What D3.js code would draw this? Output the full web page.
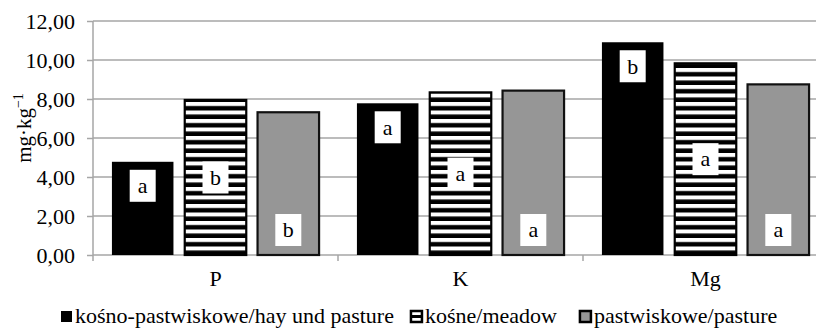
<!DOCTYPE html>
<html>
<head>
<meta charset="utf-8">
<script src="https://cdn.jsdelivr.net/npm/d3@7"></script>
<style>
  html, body { margin: 0; padding: 0; background: #fff; }
  svg, svg text { font-family: "Liberation Serif", "Times New Roman", Times, "DejaVu Serif", serif; }
  svg { display: block; }
</style>
</head>
<body>
<svg id="chart" width="816" height="328"></svg>
<script>
// Nutrient content by grassland use type
const categories = ["P", "K", "Mg"];
const seriesNames = ["kośno-pastwiskowe/hay und pasture", "kośne/meadow", "pastwiskowe/pasture"];
const hayPasture = [4.78, 7.78, 10.91];
const meadow = [7.95, 8.34, 9.83];
const pasture = [7.32, 8.43, 8.75];
// significance letters per series, per category
const hayPastureLetters = ["a", "a", "b"];
const meadowLetters = ["b", "a", "a"];
const pastureLetters = ["b", "a", "a"];
const yTicks = [0, 2, 4, 6, 8, 10, 12];

const FONT = "'Liberation Serif', 'Times New Roman', Times, 'DejaVu Serif', serif";
const FS = 22;
const svg = d3.select("#chart").attr("font-family", FONT);
const plotLeft = 93, plotRight = 828, plotTop = 21, plotBottom = 255;

const y = d3.scaleLinear().domain([0, 12]).range([plotBottom, plotTop]);
const x0 = d3.scaleBand().domain(categories).range([plotLeft, plotRight]).padding(0);
const x1 = d3.scaleBand().domain(d3.range(3)).range([0, x0.bandwidth()])
  .paddingInner(0.155).paddingOuter(0.26);

// stripe pattern for the meadow series
const defs = svg.append("defs");
const pat = defs.append("pattern").attr("id", "stripes")
  .attr("patternUnits", "userSpaceOnUse").attr("width", 8).attr("height", 8.5);
pat.append("rect").attr("width", 8).attr("height", 8.5).attr("fill", "#fff");
pat.append("rect").attr("y", 4).attr("width", 8).attr("height", 4.5).attr("fill", "#000");

const styles = [
  { fill: "#000", stroke: "none", sw: 0, place: "end" },
  { fill: "url(#stripes)", stroke: "#000", sw: 2.2, place: "center" },
  { fill: "#969696", stroke: "#111", sw: 2.2, place: "base" }
];
const values = [hayPasture, meadow, pasture];
const letters = [hayPastureLetters, meadowLetters, pastureLetters];

// gridlines
const grid = svg.append("g");
grid.selectAll("line").data(yTicks.filter(d => d > 0)).join("line")
  .attr("x1", plotLeft).attr("x2", 816)
  .attr("y1", d => y(d)).attr("y2", d => y(d))
  .attr("stroke", "#a6a6a6").attr("stroke-width", 1.5);

// y axis
const yAxis = svg.append("g").attr("transform", `translate(${plotLeft},0)`)
  .call(d3.axisLeft(y).tickValues(yTicks).tickSize(6).tickPadding(12)
    .tickFormat(d => d3.format(".2f")(d).replace(".", ",")));
yAxis.attr("font-family", FONT).attr("font-size", FS);
yAxis.select(".domain").attr("stroke", "#a6a6a6").attr("stroke-width", 1.5)
  .attr("d", `M0,${plotTop}V${plotBottom + 6}`);
yAxis.selectAll(".tick line").attr("stroke", "#a6a6a6").attr("stroke-width", 1.5);
yAxis.selectAll(".tick text").attr("fill", "#000");

// x axis
const xAxis = svg.append("g").attr("transform", `translate(0,${plotBottom})`);
xAxis.append("line").attr("x1", plotLeft).attr("x2", 816).attr("y1", 0).attr("y2", 0)
  .attr("stroke", "#a6a6a6").attr("stroke-width", 1.5);
xAxis.selectAll("line.sep").data(categories.slice(1)).join("line").attr("class", "sep")
  .attr("x1", d => x0(d)).attr("x2", d => x0(d)).attr("y1", 0).attr("y2", 6)
  .attr("stroke", "#a6a6a6").attr("stroke-width", 1.5);
xAxis.selectAll("text").data(categories).join("text")
  .attr("x", d => x0(d) + x0.bandwidth() / 2).attr("y", 31)
  .attr("text-anchor", "middle").attr("font-size", FS).text(d => d);

// bars
const groups = svg.append("g").selectAll("g").data(categories).join("g")
  .attr("transform", d => `translate(${x0(d)},0)`);
groups.each(function (cat, ci) {
  const g = d3.select(this);
  values.forEach((vals, si) => {
    const st = styles[si];
    const bx = x1(si), bw = x1.bandwidth();
    const by = y(vals[ci]), bh = y(0) - y(vals[ci]);
    g.append("rect").attr("x", bx).attr("y", by).attr("width", bw).attr("height", bh)
      .attr("fill", st.fill).attr("stroke", st.stroke).attr("stroke-width", st.sw);
    let cy;
    if (st.place === "end") cy = by + 24;
    else if (st.place === "center") cy = by + bh / 2;
    else cy = y(0) - 25;
    const lw = 26, lh = 32;
    g.append("rect").attr("x", bx + bw / 2 - lw / 2).attr("y", cy - lh / 2)
      .attr("width", lw).attr("height", lh).attr("fill", "#fff");
    g.append("text").attr("x", bx + bw / 2).attr("y", cy).attr("dy", "0.33em")
      .attr("text-anchor", "middle").attr("font-size", FS).text(letters[si][ci]);
  });
});

// y axis title
const yt = svg.append("text").attr("transform", "translate(31,128) rotate(-90)")
  .attr("text-anchor", "middle").attr("font-size", 21);
yt.append("tspan").text("mg·kg");
yt.append("tspan").attr("font-size", 14).attr("dy", -8).text("−1");

// legend
const legend = svg.append("g").attr("transform", "translate(0,316)");
let lx = 60;
seriesNames.forEach((name, si) => {
  const st = styles[si];
  const item = legend.append("g").attr("transform", `translate(${lx},0)`);
  item.append("rect").attr("x", 1).attr("y", -5).attr("width", 11).attr("height", 11)
    .attr("fill", si === 1 ? "#fff" : st.fill)
    .attr("stroke", si === 0 ? "none" : "#000").attr("stroke-width", si === 0 ? 0 : 2.5);
  if (si === 1) {
    item.append("rect").attr("x", 1).attr("y", -1).attr("width", 11).attr("height", 3).attr("fill", "#000");
  }
  const t = item.append("text").attr("x", 15).attr("y", 0).attr("dy", "0.33em")
    .attr("font-size", FS).text(name);
  lx += 15 + t.node().getComputedTextLength() + (si === 0 ? 16 : 22);
});
</script>
</body>
</html>
